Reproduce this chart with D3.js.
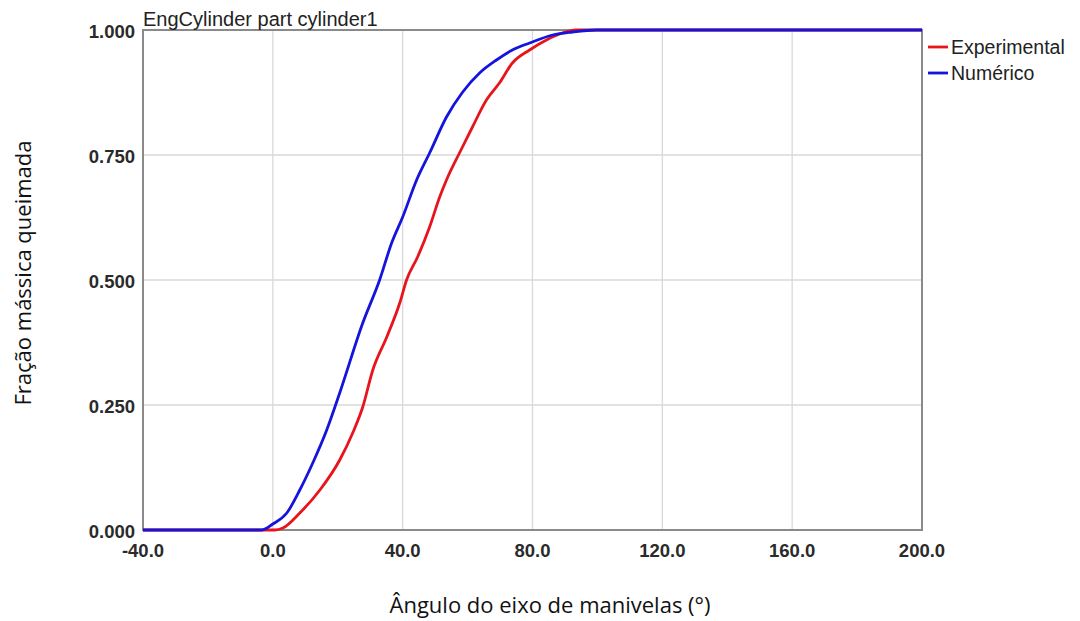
<!DOCTYPE html>
<html lang="pt">
<head>
  <meta charset="UTF-8">
  <title>Fração mássica queimada</title>
  <script src="https://d3js.org/d3.v7.min.js"></script>
  <style>
    body { margin: 0; background: #fff; font-family: "Liberation Sans", Arial, sans-serif; }
    .tick-label { font-size: 18.5px; font-weight: bold; fill: #2a2a2a; }
    .axis-title { font-family: "Open Sans", "Noto Sans", sans-serif; font-size: 22px; fill: #111; }
    .grid line { stroke: #d9d9d9; stroke-width: 1.3px; }
    .line { fill: none; stroke-width: 2.8px; stroke-linejoin: round; }
  </style>
</head>
<body>
<svg id="chart" width="1080" height="621"></svg>
<script>
  // Experimental curve (angle in degrees, burned mass fraction)
  const expAngle = [-40, 0.6, 3.1, 8.3, 14.5, 20.6, 24.6, 27.7, 30.8, 35.1, 39.1, 41.2, 44.6, 48.3, 51.4, 53.5,
                    57.5, 61.5, 65.8, 69.8, 73.8, 79.1, 84.3, 89.2, 93.5, 200];
  const expFrac  = [0, 0, 0.004, 0.034, 0.08, 0.14, 0.194, 0.246, 0.32, 0.386, 0.454, 0.5, 0.546, 0.606, 0.666, 0.7,
                    0.754, 0.806, 0.86, 0.894, 0.934, 0.96, 0.98, 0.994, 1.0, 1.0];
  // Numerical curve
  const numAngle = [-40, -3.4, 0, 4.3, 8.3, 12.3, 16.6, 20.6, 27.7, 32.9, 36.6, 40, 44.3, 48.3, 53.5, 58.5,
                    63.7, 68.9, 73.8, 79.1, 86.2, 92.3, 99.7, 200];
  const numFrac  = [0, 0, 0.012, 0.034, 0.08, 0.134, 0.2, 0.274, 0.414, 0.5, 0.574, 0.626, 0.7, 0.754, 0.826, 0.876,
                    0.914, 0.94, 0.96, 0.974, 0.99, 0.996, 1.0, 1.0];

  const xTicks = [-40, 0, 40, 80, 120, 160, 200];
  const yTicks = [0, 0.25, 0.5, 0.75, 1];
  const seriesNames = ["Experimental", "Numérico"];
  const seriesColors = ["#e8141c", "#1414dc"];

  const margin = { top: 30, left: 143 },
        width = 779, height = 500;

  const svg = d3.select("#chart");
  const g = svg.append("g").attr("transform", `translate(${margin.left},${margin.top})`);

  const x = d3.scaleLinear().domain([-40, 200]).range([0, width]);
  const y = d3.scaleLinear().domain([0, 1]).range([height, 0]);

  // d3 uses a unicode minus; the original shows a plain hyphen
  const fmtX = d => d3.format(".1f")(d).replace("\u2212", "-");

  // grid
  g.append("g").attr("class", "grid")
    .selectAll("line").data(xTicks.slice(1, -1)).enter().append("line")
    .attr("x1", d => x(d)).attr("x2", d => x(d)).attr("y1", 0).attr("y2", height);
  g.append("g").attr("class", "grid")
    .selectAll("line").data(yTicks.slice(1, -1)).enter().append("line")
    .attr("x1", 0).attr("x2", width).attr("y1", d => y(d)).attr("y2", d => y(d));

  // frame
  g.append("rect").attr("x", 0).attr("y", 0).attr("width", width).attr("height", height)
    .attr("fill", "none").attr("stroke", "#8a8a8a").attr("stroke-width", 2);

  // tick labels
  g.selectAll(".xl").data(xTicks).enter().append("text")
    .attr("class", "tick-label")
    .attr("x", d => x(d)).attr("y", height + 27)
    .attr("text-anchor", "middle")
    .text(fmtX);
  g.selectAll(".yl").data(yTicks).enter().append("text")
    .attr("class", "tick-label")
    .attr("x", -8).attr("y", d => y(d) + 8)
    .attr("text-anchor", "end")
    .text(d => d3.format(".3f")(d));

  // lines
  const line = d3.line().x(d => x(d[0])).y(d => y(d[1])).curve(d3.curveMonotoneX);
  const series = [d3.zip(expAngle, expFrac), d3.zip(numAngle, numFrac)];
  series.forEach((s, i) => {
    g.append("path").datum(s).attr("class", "line")
      .attr("stroke", seriesColors[i]).attr("d", line);
  });

  // title
  svg.append("text").attr("x", 143).attr("y", 26)
    .attr("font-size", 20).attr("fill", "#222")
    .text("EngCylinder part cylinder1");

  // legend
  seriesNames.forEach((n, i) => {
    const ly = 47 + i * 26;
    svg.append("line").attr("x1", 928).attr("x2", 948).attr("y1", ly).attr("y2", ly)
      .attr("stroke", seriesColors[i]).attr("stroke-width", 2.8);
    svg.append("text").attr("x", 951).attr("y", ly + 7)
      .attr("font-size", 19.5).attr("fill", "#222").text(n);
  });

  // axis titles
  svg.append("text").attr("class", "axis-title")
    .attr("x", 550).attr("y", 613).attr("text-anchor", "middle")
    .text("Ângulo do eixo de manivelas (°)");
  svg.append("text").attr("class", "axis-title")
    .attr("transform", "translate(31,273) rotate(-90)")
    .attr("text-anchor", "middle")
    .text("Fração mássica queimada");
</script>
</body>
</html>
